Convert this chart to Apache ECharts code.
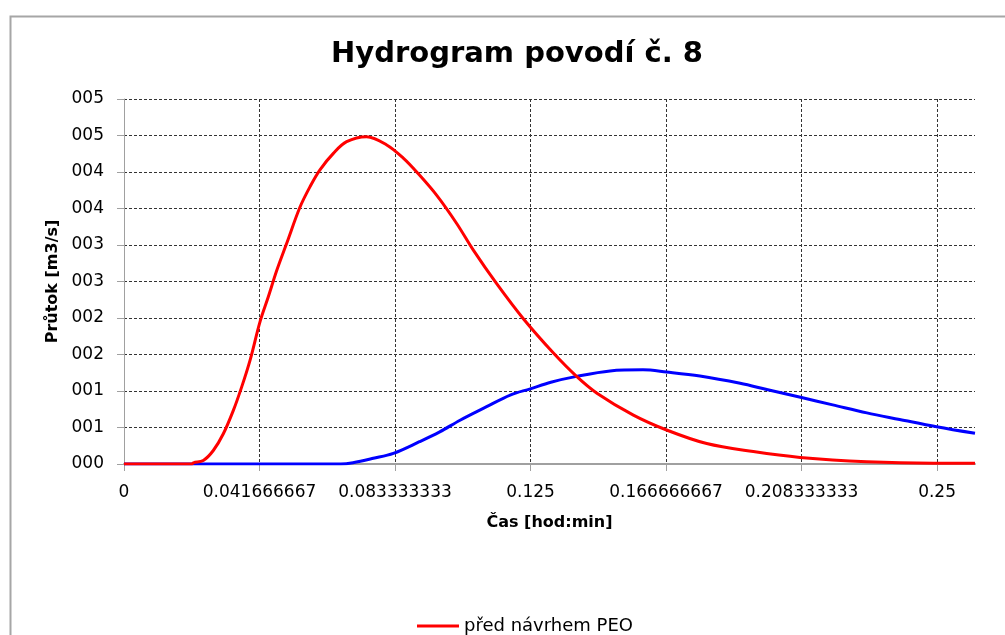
<!DOCTYPE html>
<html>
<head>
<meta charset="utf-8">
<script src="https://cdn.jsdelivr.net/npm/echarts@6/dist/echarts.min.js"></script>
<style>html,body{margin:0;padding:0;background:#fff}#c{width:1005px;height:635px}</style>
</head>
<body>
<div id="c"></div>
<script>
// time in hours (axis labels show the time as a fraction of a day)
const redTime  = [0, 0.50, 0.512, 0.585, 0.659, 0.733, 0.807, 0.868, 0.930, 1.004, 1.065, 1.127, 1.20, 1.299, 1.373, 1.446, 1.545, 1.643, 1.79, 1.939, 2.061, 2.16, 2.308, 2.455, 2.578, 2.75, 2.947, 3.169, 3.340, 3.490, 3.759, 4.004, 4.300, 4.644, 4.989, 5.482, 5.975, 6.28];
const redFlow  = [0, 0, 0.016, 0.048, 0.185, 0.414, 0.734, 1.053, 1.42, 1.95, 2.29, 2.65, 3.02, 3.52, 3.80, 4.03, 4.255, 4.415, 4.483, 4.37, 4.19, 4.00, 3.68, 3.295, 2.93, 2.47, 1.99, 1.52, 1.20, 0.97, 0.67, 0.466, 0.28, 0.17, 0.09, 0.03, 0.01, 0.01];
const blueTime = [0, 1.60, 1.69, 1.84, 1.988, 2.18, 2.33, 2.48, 2.676, 2.85, 2.998, 3.15, 3.34, 3.587, 3.83, 4.004, 4.25, 4.547, 4.743, 5.0, 5.23, 5.482, 5.724, 5.996, 6.28];
const blueFlow = [0, 0, 0.018, 0.078, 0.146, 0.305, 0.44, 0.60, 0.785, 0.945, 1.03, 1.12, 1.20, 1.275, 1.29, 1.26, 1.205, 1.105, 1.02, 0.91, 0.81, 0.70, 0.61, 0.51, 0.42];
const xTickValues = [0, 1, 2, 3, 4, 5, 6];
const xTickLabels = ['0', '0.041666667', '0.083333333', '0.125', '0.166666667', '0.208333333', '0.25'];
const yTickLabels = ['000', '001', '001', '002', '002', '003', '003', '004', '004', '005', '005'];
const seriesNames = ['před návrhem PEO', 'po návrhu PEO'];
const titleText = 'Hydrogram povodí č. 8';
const xName = 'Čas [hod:min]';
const yName = 'Průtok [m3/s]';

const zip = (a, b) => a.map((v, i) => [v, b[i]]);
const FONT = "'DejaVu Sans', sans-serif";
const chart = echarts.init(document.getElementById('c'));
chart.setOption({
  animation: false,
  backgroundColor: '#fff',
  graphic: [{
    type: 'rect', left: 8, top: 14, silent: true,
    shape: { x: 0, y: 0, width: 1020, height: 650 },
    style: { fill: 'none', stroke: '#a6a6a6', lineWidth: 2 }
  }],
  title: {
    text: titleText, left: 512, top: 35, textAlign: 'center',
    textStyle: { fontFamily: FONT, fontWeight: 'bold', fontSize: 29, color: '#000' }
  },
  legend: {
    data: [seriesNames[0]], left: 412, top: 612, icon: 'rect',
    itemWidth: 42, itemHeight: 3, itemGap: 10,
    textStyle: { fontFamily: FONT, fontSize: 18, color: '#000' }
  },
  grid: { left: 124, top: 99, right: 30, bottom: 171 },
  xAxis: {
    type: 'value', min: 0, max: 6.28, interval: 1,
    name: xName, nameLocation: 'middle', nameGap: 51,
    nameTextStyle: { fontFamily: FONT, fontWeight: 'bold', fontSize: 16, color: '#000' },
    axisLine: { onZero: false, lineStyle: { color: '#a0a0a0', width: 2 } },
    axisTick: { show: true, length: 7, customValues: xTickValues, lineStyle: { color: '#a0a0a0' } },
    axisLabel: {
      margin: 20, fontFamily: FONT, fontSize: 17, color: '#000', customValues: xTickValues,
      formatter: v => { const i = xTickValues.indexOf(Math.round(v)); return i >= 0 ? xTickLabels[i] : ''; }
    },
    splitLine: { show: true, lineStyle: { color: '#333', type: [3, 2], width: 1 } }
  },
  yAxis: {
    type: 'value', min: 0, max: 5, interval: 0.5,
    name: yName, nameLocation: 'middle', nameGap: 63, nameRotate: 90,
    nameTextStyle: { fontFamily: FONT, fontWeight: 'bold', fontSize: 16, color: '#000' },
    axisLine: { show: true, lineStyle: { color: '#a0a0a0', width: 1 } },
    axisTick: { show: true, length: 7, lineStyle: { color: '#a0a0a0' } },
    axisLabel: {
      margin: 20, fontFamily: FONT, fontSize: 17, color: '#000',
      formatter: v => yTickLabels[Math.round(v / 0.5)] || ''
    },
    splitLine: { show: true, lineStyle: { color: '#333', type: [3, 2], width: 1 } }
  },
  series: [
    { name: seriesNames[0], type: 'line', smooth: 0.35, showSymbol: false, symbol: 'none',
      data: zip(redTime, redFlow), lineStyle: { color: '#ff0000', width: 3 }, itemStyle: { color: '#ff0000' }, z: 3 },
    { name: seriesNames[1], type: 'line', smooth: 0.35, showSymbol: false, symbol: 'none',
      data: zip(blueTime, blueFlow), lineStyle: { color: '#0000ff', width: 3 }, itemStyle: { color: '#0000ff' }, z: 2 }
  ]
});
</script>
</body>
</html>
